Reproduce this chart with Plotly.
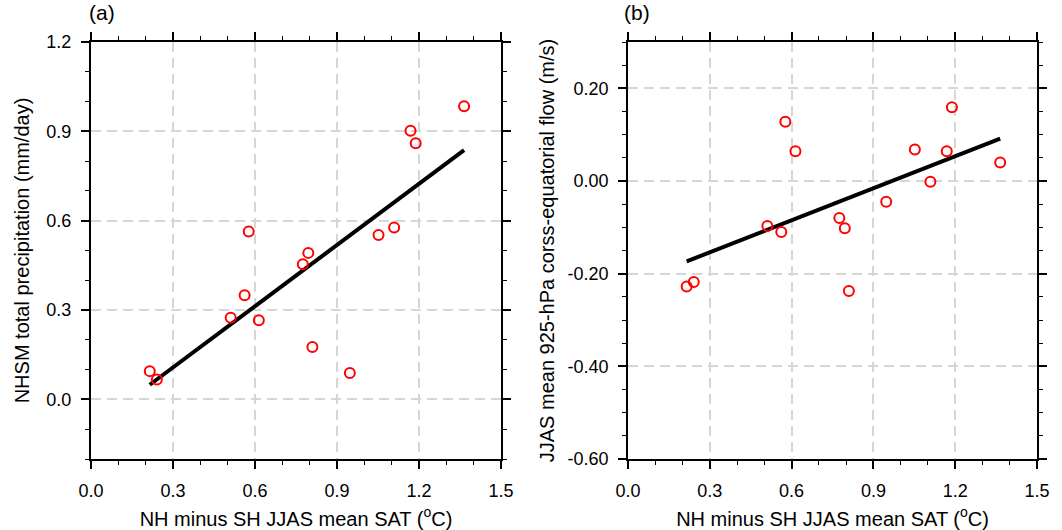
import numpy as np
import plotly.graph_objects as go

# ---- data ----
sat_diff = [0.215, 0.241, 0.511, 0.562, 0.577, 0.614, 0.775, 0.795, 0.810,
            0.947, 1.052, 1.109, 1.169, 1.188, 1.365]
precip = [0.095, 0.067, 0.274, 0.350, 0.564, 0.266, 0.454, 0.492, 0.176,
          0.089, 0.552, 0.577, 0.902, 0.860, 0.984]
flow = [-0.2275, -0.218, -0.097, -0.110, 0.128, 0.064, -0.080, -0.102, -0.2375,
        -0.045, 0.068, -0.0015, 0.064, 0.159, 0.040]

x_ticks = [0.0, 0.3, 0.6, 0.9, 1.2, 1.5]
x_ticktext = ["0.0", "0.3", "0.6", "0.9", "1.2", "1.5"]
ya_ticks = [0.0, 0.3, 0.6, 0.9, 1.2]
ya_ticktext = ["0.0", "0.3", "0.6", "0.9", "1.2"]
yb_ticks = [-0.6, -0.4, -0.2, 0.0, 0.2]
yb_ticktext = ["-0.60", "-0.40", "-0.20", "0.00", "0.20"]

x_title = "NH minus SH JJAS mean SAT (<sup>o</sup>C)"
ya_title = "NHSM total precipitation (mm/day)"
yb_title = "JJAS mean 925-hPa corss-equatorial flow (m/s)"

# ---- least-squares fits ----
xs = np.array(sat_diff)
xfit = np.array([xs.min(), xs.max()])
pa = np.polyfit(xs, np.array(precip), 1)
pb = np.polyfit(xs, np.array(flow), 1)

FONT = "Liberation Sans, Arial, Helvetica, sans-serif"
TICK_SIZE = 18
TITLE_SIZE = 20

fig = go.Figure()
for xa, ya, yvals, p in [("x", "y", precip, pa), ("x2", "y2", flow, pb)]:
    fig.add_trace(go.Scatter(
        x=xfit, y=np.polyval(p, xfit), xaxis=xa, yaxis=ya, mode="lines",
        line=dict(color="black", width=4), showlegend=False, hoverinfo="skip"))
    fig.add_trace(go.Scatter(
        x=sat_diff, y=yvals, xaxis=xa, yaxis=ya, mode="markers",
        marker=dict(symbol="circle-open", size=10, color="red",
                    line=dict(color="red", width=2)),
        showlegend=False))

common_axis = dict(
    showline=True, linecolor="black", linewidth=2, mirror="allticks",
    ticks="outside", ticklen=8, tickwidth=2, tickcolor="black",
    showgrid=True, gridcolor="#d6d6d6", gridwidth=2, griddash="10px,6px",
    zeroline=False, tickfont=dict(family=FONT, size=TICK_SIZE, color="black"),
    ticklabelstandoff=6, automargin=False,
    minor=dict(ticks="outside", ticklen=4, tickwidth=1, tickcolor="black",
               showgrid=False),
)

xaxis_cfg = dict(common_axis, range=[0, 1.5], tickmode="array",
                 tickvals=x_ticks, ticktext=x_ticktext,
                 title=dict(text=x_title,
                            font=dict(family=FONT, size=TITLE_SIZE, color="black"),
                            standoff=12))
xaxis_cfg["minor"] = dict(common_axis["minor"], dtick=0.1, tick0=0)

fig.update_layout(
    width=1062, height=530,
    paper_bgcolor="white", plot_bgcolor="white",
    margin=dict(l=91, r=25, t=42, b=71, autoexpand=False),
    font=dict(family=FONT, color="black"),
    xaxis=dict(xaxis_cfg, domain=[0, 0.4334], anchor="y"),
    xaxis2=dict(xaxis_cfg, domain=[0.5677, 1.0], anchor="y2"),
    yaxis=dict(common_axis, range=[-0.2, 1.2], tickmode="array",
               tickvals=ya_ticks, ticktext=ya_ticktext, anchor="x",
               minor=dict(common_axis["minor"], dtick=0.1, tick0=0),
               title=dict(text=ya_title,
                          font=dict(family=FONT, size=TITLE_SIZE, color="black"),
                          standoff=11)),
    yaxis2=dict(common_axis, range=[-0.6, 0.3], tickmode="array",
                tickvals=yb_ticks, ticktext=yb_ticktext, anchor="x2",
                minor=dict(common_axis["minor"], dtick=0.05, tick0=0),
                title=dict(text=yb_title,
                           font=dict(family=FONT, size=TITLE_SIZE, color="black"),
                           standoff=7)),
    annotations=[
        dict(text="(a)", xref="paper", yref="paper", x=0.0, y=1.0, xanchor="left",
             yanchor="bottom", yshift=16, xshift=-4, showarrow=False,
             font=dict(family=FONT, size=21, color="black")),
        dict(text="(b)", xref="paper", yref="paper", x=0.5677, y=1.0, xanchor="left",
             yanchor="bottom", yshift=16, xshift=-6, showarrow=False,
             font=dict(family=FONT, size=21, color="black")),
    ],
)

# remove the browser's default 8px body margin so the figure fills the window
fig.write_html("out.html",
               config={"displayModeBar": False},
               post_script="document.body.style.margin='0';")
